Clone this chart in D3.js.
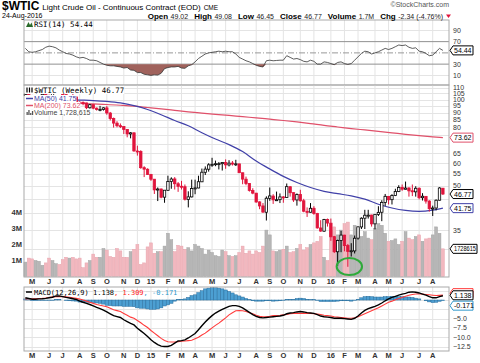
<!DOCTYPE html>
<html>
<head>
<meta charset="utf-8">
<script src="https://cdn.jsdelivr.net/npm/d3@7"></script>
<style>
  body { margin: 0; background: #fff; }
  svg { display: block; font-family: "Liberation Sans", Arial, sans-serif; }
</style>
</head>
<body>
<svg id="chart" width="480" height="363"></svg>
<script>
// weekly bars, Apr 2014 - Aug 2016
const firstWeek = new Date(2014, 3, 17)
const lastWeek = new Date(2016, 7, 26)

const open = [103.7,104.3,100.6,99.8,100.0,102.0,104.3,102.7,102.7,106.9,107.2,105.7,104.0,100.8,103.1,102.1,97.9,97.6,97.3,93.6,
  96.0,93.3,92.3,92.4,93.5,89.7,85.8,82.7,81.0,80.5,78.6,75.8,76.5,66.1,65.8,57.8,57.1,54.7,52.7,48.4,
  48.7,45.6,48.2,51.7,52.8,50.8,49.8,49.6,44.8,45.7,48.9,49.1,51.6,55.7,57.1,59.1,59.4,59.7,59.7,60.3,
  59.1,60.0,59.6,59.6,55.5,52.7,50.9,48.1,47.1,43.9,42.5,40.4,45.2,46.0,44.6,44.7,45.7,45.5,49.6,47.3,
  44.6,46.6,44.3,40.7,40.4,41.7,40.0,35.6,34.7,38.1,37.0,33.2,29.4,32.2,33.6,30.9,29.4,29.6,32.8,35.9,
  38.5,39.4,39.5,36.8,39.7,40.4,43.7,45.9,44.7,46.2,47.7,49.3,48.6,49.1,48.0,47.6,49.0,45.4,45.9,44.2,
  41.6,41.8,44.5,49.02]
const high = [104.99,104.5,101.5,101.0,102.5,104.5,104.5,104.0,107.7,107.7,107.5,106.5,104.2,103.5,105.0,102.5,98.5,98.5,97.5,96.5,
  96.0,93.8,95.0,94.0,95.0,90.5,86.5,84.0,82.5,80.5,78.8,77.0,76.8,69.0,66.5,58.5,57.5,55.0,52.7,49.3,
  48.9,48.3,54.2,53.5,53.6,51.5,52.0,50.5,47.8,52.5,52.5,54.2,57.4,58.4,59.9,62.6,61.2,60.5,60.5,61.8,
  61.4,61.0,61.6,59.7,55.5,53.8,51.0,49.0,47.2,44.1,43.5,45.9,49.3,46.7,47.7,47.0,46.0,50.9,49.8,47.4,
  47.0,48.4,45.0,42.0,43.5,42.4,40.2,37.9,38.3,38.4,38.4,33.4,32.4,34.8,33.7,31.3,31.5,33.5,36.0,38.8,
  41.2,41.2,39.6,39.8,42.4,44.5,46.8,46.0,46.7,48.8,50.2,50.5,51.7,49.4,50.5,49.8,49.3,47.1,46.0,44.5,
  42.6,44.8,49.4,49.08]
const low = [103.0,100.5,99.0,98.5,99.5,101.5,102.0,101.8,102.5,105.0,105.0,103.5,100.5,99.0,101.5,97.0,96.5,95.5,92.5,93.0,
  92.5,91.5,91.0,91.5,88.5,84.5,79.8,80.0,79.5,75.8,73.8,73.2,65.7,63.7,57.3,53.6,54.5,52.0,46.8,44.2,
  45.2,43.6,48.0,48.8,48.5,47.6,48.5,44.4,42.0,45.5,46.7,49.0,51.5,54.5,56.0,58.2,58.5,57.0,56.5,57.3,
  58.4,58.8,58.6,55.4,50.6,50.2,47.7,46.7,43.6,41.4,40.2,37.8,44.3,43.2,44.2,43.5,43.6,45.4,45.8,43.9,
  42.6,44.0,40.4,38.9,40.3,39.6,35.4,34.5,34.5,36.0,32.1,29.1,26.2,29.3,29.5,26.05,28.3,29.0,32.4,35.3,
  35.3,38.4,36.0,35.2,39.2,37.6,42.5,43.0,43.0,46.0,47.5,48.0,48.5,45.8,46.0,45.8,44.8,44.4,43.3,40.6,
  39.2,41.0,44.4,46.45]
const close = [104.30,100.60,99.76,99.99,102.02,104.35,102.71,102.66,106.91,107.26,105.74,104.06,100.83,103.13,102.09,97.88,97.65,97.35,93.65,95.96,
  93.29,92.27,92.41,93.54,89.74,85.82,82.75,81.01,80.54,78.65,75.82,76.51,66.15,65.84,57.81,57.13,54.73,52.69,48.36,48.69,
  45.59,48.24,51.69,52.78,50.81,49.76,49.61,44.84,45.72,48.87,49.14,51.64,55.74,57.15,59.15,59.39,59.69,59.72,60.30,59.13,
  59.96,59.61,59.63,55.52,52.74,50.89,48.14,47.12,43.87,42.50,40.45,45.22,46.05,44.63,44.68,45.70,45.54,49.63,47.26,44.60,
  46.59,44.29,40.74,40.39,41.71,39.97,35.62,34.73,38.10,37.04,33.16,29.42,32.19,33.62,30.89,29.44,29.64,32.78,35.92,38.50,
  39.44,39.46,36.79,39.72,40.36,43.73,45.92,44.66,46.21,47.75,49.33,48.62,49.07,47.98,47.64,48.99,45.41,45.95,44.19,41.60,
  41.80,44.49,49.11,46.77]

// volume in millions
const volume = [0.9,1.15,1.1,1.0,0.95,0.7,0.85,1.15,1.0,0.8,0.75,1.05,1.2,1.15,1.2,1.1,1.15,0.55,0.85,1.0,
  1.4,1.2,1.2,1.75,1.65,1.25,1.2,1.75,1.6,1.2,1.2,1.55,1.7,2.0,0.75,0.85,1.85,2.1,1.45,1.55,
  1.55,1.9,2.7,2.3,1.55,1.95,1.9,1.7,1.8,1.6,2.0,1.9,1.75,1.4,1.65,1.5,1.3,1.25,1.65,1.55,
  1.3,1.25,1.3,1.5,1.9,1.45,1.6,1.4,1.6,1.5,1.9,2.9,2.6,1.6,1.55,1.65,1.7,1.9,1.5,1.55,
  1.75,2.0,1.65,1.8,2.0,2.1,2.2,2.5,1.2,1.0,2.9,3.1,2.6,2.9,3.3,3.4,2.6,3.2,3.0,2.5,
  2.8,2.4,2.3,3.0,3.3,3.2,2.7,2.2,2.25,2.35,2.0,2.2,2.8,2.4,2.3,2.5,2.6,2.2,2.35,2.4,
  2.6,3.1,2.7,1.728615]

// moving averages, every 4th week
const maWeeks = [0,4,8,12,16,20,24,28,32,36,40,44,48,52,56,60,64,68,72,76,80,84,88,92,96,100,104,108,112,116,120,123]
const ma50 = [100.2,100.3,100.2,100.0,99.6,99.2,98.5,97.3,95.2,92.3,88.5,84.5,81.0,76.6,72.8,69.6,65.8,61.0,57.2,53.9,
  51.3,49.3,47.8,46.9,46.1,44.9,43.1,41.8,41.0,40.7,41.1,41.75]
const ma200 = [97.4,97.3,97.2,97.0,96.9,96.5,96.1,95.5,94.8,93.8,92.8,91.7,90.6,89.7,88.8,88.0,87.1,86.3,85.4,84.5,
  83.5,82.4,81.2,80.2,79.2,78.3,77.4,76.5,75.6,74.8,74.1,73.62]

const rsi = [58,52,51,52,54,56,60,62,61,59,55,52,49,48,46,43,41,42,40,37,37,36,33,30,28,27,27,26,
  25,23,24,19.5,19,15,15,12,11,10,11,10.5,13.7,22,24,25,25,26,23,22.5,27,29,34,40,44,48,50,51,52,53,52,53,
  52,52,48,42,39,36,34,31,28,26,25,36,37,36,36.5,
  37,37,45,42,39,40,38,35,34,37,35,30,30,34,33,31,29,33,34,31,29.5,31,37,43,49,53,52,48,50,52,
  55,58,56,58,61,64,63,64,60,58,59,53,52,49,45,46,52,58,54.44]

const macd = [0.6,0.4,0.2,0.2,0.3,0.35,0.45,0.6,0.75,1.1,1.1,0.9,0.7,0.55,0.35,0.15,-0.3,-0.6,-0.9,-1.2,
  -1.6,-2.0,-2.3,-2.7,-3.2,-3.7,-4.2,-4.45,-4.7,-5.3,-5.8,-6.3,-6.7,-7.6,-8.3,-9.0,-9.8,-10.7,-11.4,-12.0,
  -12.4,-12.5,-12.5,-12.2,-11.6,-11.0,-10.9,-10.7,-10.2,-9.6,-9.0,-8.0,-6.9,-5.9,-5.0,-4.2,-3.5,-3.0,-2.5,-2.1,
  -1.7,-1.5,-1.5,-1.7,-2.1,-2.7,-3.3,-3.9,-4.4,-4.7,-4.8,-4.7,-4.6,-4.5,-4.4,-4.3,-4.1,-3.7,-3.5,-3.4,
  -3.2,-3.1,-3.2,-3.4,-3.5,-3.6,-3.9,-4.3,-4.5,-4.6,-4.7,-4.9,-4.9,-4.9,-5.0,-5.1,-5.2,-4.9,-4.3,-3.5,
  -2.8,-2.3,-2.0,-1.7,-1.3,-0.8,-0.2,0.3,0.7,1.0,1.3,1.6,1.8,2.1,2.2,2.1,1.9,1.6,1.3,0.9,
  0.6,0.6,0.9,1.138]
const signal = [0.3,0.35,0.35,0.35,0.4,0.45,0.55,0.7,0.85,0.9,0.9,0.9,0.85,0.75,0.6,0.45,0.25,0.0,-0.3,-0.6,
  -0.9,-1.2,-1.4,-1.6,-1.8,-2.2,-2.6,-2.85,-3.1,-3.6,-4.1,-4.6,-4.9,-5.5,-6.1,-6.8,-7.4,-8.2,-8.9,-9.6,
  -10.3,-10.9,-11.2,-11.3,-11.3,-11.2,-11.1,-11.0,-10.9,-10.8,-10.4,-10.0,-9.4,-8.9,-8.2,-7.5,-6.8,-6.2,-5.5,-4.8,
  -4.0,-3.4,-2.9,-2.8,-2.9,-3.1,-3.4,-3.7,-4.1,-4.4,-4.5,-4.5,-4.4,-4.2,-4.15,-4.1,-4.0,-3.9,-3.7,-3.6,
  -3.6,-3.6,-3.6,-3.6,-3.6,-3.7,-3.8,-3.9,-4.1,-4.2,-4.3,-4.5,-4.6,-4.7,-4.8,-4.9,-4.9,-4.8,-4.5,-4.1,
  -3.7,-3.3,-2.9,-2.5,-2.1,-1.6,-1.1,-0.6,-0.3,0.1,0.4,0.7,1.0,1.3,1.5,1.6,1.6,1.6,1.5,1.4,
  1.3,1.2,1.25,1.309]

const priceTicks = [110,105,100,95,90,85,80,75,70,65,60,55,50,45,40,35,30]
const volTicks = [1,2,3,4]
const rsiTicks = [90,70,30,10]
const macdTicks = [2.5,-2.5,-5,-7.5,-10,-12.5]
const monthNames = ['J','F','M','A','M','J','J','A','S','O','N','D']

const weeks = d3.timeThursday.range(firstWeek, lastWeek)
const bars = weeks.map((d, i) => ({
  i, date: d, o: open[i], h: high[i], l: low[i], c: close[i], v: volume[i],
  up: i === 0 ? true : close[i] >= close[i - 1]
}))

const L = 24, R = 449
const red = '#e0143c', ma50Col = '#4040a8', ma200Col = '#e0506a'

const svg = d3.select('#chart')

const x = d3.scaleLinear().domain([-0.4, 124.8]).range([L, R])
const yRsi = d3.scaleLinear().domain([0, 100]).range([81, 24.75])
const yPrice = d3.scaleLog().domain([24.0, 112.4]).range([277, 85])
const yVol = d3.scaleLinear().domain([0, 12]).range([276.5, 84.5])
const yMacd = d3.scaleLinear().domain([-13.7, 3.5]).range([351, 287])

// month gridlines at first bar of each month
const monthTicks = bars.filter((b, i) => i === 0 || b.date.getMonth() !== bars[i - 1].date.getMonth()).slice(1)

// boxes with the latest values on the right axis
const boxes = [
  {y: yRsi(54.44), t: '54.44', c: '#000'},
  {y: yPrice(73.62), t: '73.62', c: ma200Col},
  {y: yPrice(46.77), t: '46.77', c: '#000'},
  {y: yPrice(41.75), t: '41.75', c: ma50Col},
  {y: yVol(1.728615), t: '1728615', c: '#000'},
  {y: yMacd(1.309) - 2, t: '', c: '#ff3b3b'},
  {y: yMacd(1.138) - 0.5, t: '1.138', c: '#000'},
  {y: yMacd(-0.171) + 5, t: '-0.171', c: '#3399cc'}
]
const clear = yy => boxes.every(b => !b.t || Math.abs(b.y - yy) > 7)

function panel(top, bottom) {
  const g = svg.append('g')
  g.selectAll('line.vg').data(monthTicks).enter().append('line')
    .attr('x1', d => x(d.i)).attr('x2', d => x(d.i))
    .attr('y1', top).attr('y2', bottom)
    .attr('stroke', '#e4e4e4').attr('stroke-width', 1)
  return g
}

function hGrid(g, ticks, scale) {
  g.selectAll('line.hg').data(ticks).enter().append('line')
    .attr('x1', L).attr('x2', R)
    .attr('y1', d => Math.round(scale(d)) + 0.5).attr('y2', d => Math.round(scale(d)) + 0.5)
    .attr('stroke', '#e4e4e4')
}

function rightLabels(ticks, scale, fmt) {
  svg.append('g').selectAll('text').data(ticks.filter(d => clear(scale(d)))).enter().append('text')
    .attr('x', R + 4).attr('y', d => scale(d) + 2.5)
    .attr('font-size', 7).attr('fill', '#333')
    .text(fmt || (d => d))
}

function valueBox(b) {
  const w = b.t.length > 6 ? 24 : 20
  svg.append('path')
    .attr('d', `M${R + 1},${b.y} L${R + 4},${b.y - 4.5} L${R + 4 + w},${b.y - 4.5} L${R + 4 + w},${b.y + 4.5} L${R + 4},${b.y + 4.5} Z`)
    .attr('fill', '#fff').attr('stroke', b.c).attr('stroke-width', 1)
  if (!b.t) return
  const t = svg.append('text').attr('x', R + 5).attr('y', b.y + 2.5)
    .attr('font-size', 7).attr('fill', '#000').text(b.t)
  if (b.t.length > 6) t.attr('textLength', w - 2).attr('lengthAdjust', 'spacingAndGlyphs')
}

// ---------- RSI panel
const rsiG = panel(20, 85)
hGrid(rsiG, [90, 10], yRsi)
rsiG.selectAll('line.lv').data([70, 30]).enter().append('line')
  .attr('x1', L).attr('x2', R).attr('y1', d => yRsi(d)).attr('y2', d => yRsi(d))
  .attr('stroke', '#909090')
rsiG.append('line').attr('x1', L).attr('x2', R).attr('y1', yRsi(50)).attr('y2', yRsi(50))
  .attr('stroke', '#999').attr('stroke-dasharray', '6,2,1,2')

rsiG.append('path').datum(bars)
  .attr('d', d3.area().x(d => x(d.i)).y0(yRsi(30)).y1(d => yRsi(Math.min(30, rsi[d.i]))))
  .attr('fill', '#a0625c').attr('stroke', 'none')
rsiG.append('path').datum(bars)
  .attr('d', d3.line().x(d => x(d.i)).y(d => yRsi(rsi[d.i])))
  .attr('fill', 'none').attr('stroke', '#333').attr('stroke-width', 0.8)
rsiG.append('rect').attr('x', L).attr('y', 20).attr('width', R - L).attr('height', 65)
  .attr('fill', 'none').attr('stroke', '#aaa')
rightLabels(rsiTicks, yRsi)

// ---------- price panel
const pG = panel(85, 277)
hGrid(pG, priceTicks, yPrice)

// volume overlay
pG.selectAll('rect.vol').data(bars).enter().append('rect')
  .attr('x', d => x(d.i) - 1.45).attr('width', 2.9)
  .attr('y', d => yVol(d.v)).attr('height', d => yVol(0) - yVol(d.v))
  .attr('fill', d => d.up ? '#b6b6b6' : '#f2b8bf')
  .attr('stroke', d => d.up ? '#a4a4a4' : '#e8a4ad').attr('stroke-width', 0.5)

const maLine = vals => d3.line().curve(d3.curveMonotoneX)
  .x((d, k) => x(maWeeks[k])).y(d => yPrice(d))(vals)
pG.append('path').attr('d', maLine(ma200)).attr('fill', 'none').attr('stroke', ma200Col).attr('stroke-width', 1.2)
pG.append('path').attr('d', maLine(ma50)).attr('fill', 'none').attr('stroke', ma50Col).attr('stroke-width', 1.2)

// candles
const candle = pG.selectAll('g.c').data(bars).enter().append('g')
candle.append('line')
  .attr('x1', d => x(d.i)).attr('x2', d => x(d.i))
  .attr('y1', d => yPrice(d.h)).attr('y2', d => yPrice(d.l))
  .attr('stroke', d => d.up ? '#000' : red).attr('stroke-width', 1)
candle.append('rect')
  .attr('x', d => x(d.i) - 1.2).attr('width', 2.4)
  .attr('y', d => yPrice(Math.max(d.o, d.c)))
  .attr('height', d => Math.max(1, yPrice(Math.min(d.o, d.c)) - yPrice(Math.max(d.o, d.c))))
  .attr('fill', d => d.c < d.o ? (d.up ? '#000' : red) : '#fff')
  .attr('stroke', d => d.up ? '#000' : red).attr('stroke-width', 0.8)

// highlight of the Feb 2016 low
pG.append('ellipse').attr('cx', x(95) + 1.5).attr('cy', yPrice(26.1))
  .attr('rx', 12.7).attr('ry', 8.5)
  .attr('fill', 'none').attr('stroke', '#2eaa3a').attr('stroke-width', 2)

pG.append('rect').attr('x', L).attr('y', 85).attr('width', R - L).attr('height', 192)
  .attr('fill', 'none').attr('stroke', '#aaa')
rightLabels(priceTicks, yPrice)

svg.append('g').selectAll('text').data(volTicks).enter().append('text')
  .attr('x', L - 2).attr('y', d => yVol(d) + 2.5).attr('text-anchor', 'end')
  .attr('font-size', 7.5).attr('font-weight', 'bold').attr('fill', '#333')
  .text(d => d + 'M')

// legend with white backing per line
const legend = [
  {t: '$WTIC (Weekly) 46.77', c: '#000', mono: true, y: 92.5},
  {t: 'MA(50) 41.75', c: ma50Col, y: 100.5},
  {t: 'MA(200) 73.62', c: ma200Col, y: 107.5},
  {t: 'Volume 1,728,615', c: '#444', y: 115}
]
legend.forEach(l => {
  const t = svg.append('text').attr('x', 34).attr('y', l.y)
    .attr('font-size', l.mono ? 7.5 : 7)
    .attr('font-family', l.mono ? '"DejaVu Sans Mono", monospace' : null)
    .attr('fill', l.c).text(l.t)
  const bb = t.node().getBBox()
  svg.insert('rect', () => t.node()).attr('x', 25).attr('y', bb.y + 0.5)
    .attr('width', bb.x + bb.width - 25).attr('height', bb.height - 1).attr('fill', '#fff')
})
svg.append('line').attr('x1', 26).attr('x2', 33).attr('y1', 98.5).attr('y2', 98.5).attr('stroke', ma50Col).attr('stroke-width', 1.5)
svg.append('line').attr('x1', 26).attr('x2', 33).attr('y1', 105.5).attr('y2', 105.5).attr('stroke', ma200Col).attr('stroke-width', 1.5)
svg.append('g').selectAll('rect').data([3, 5, 2, 4]).enter().append('rect')
  .attr('x', (d, k) => 26.5 + k * 1.8).attr('y', d => 115 - d).attr('width', 1.3).attr('height', d => d).attr('fill', '#555')
svg.append('g').selectAll('line').data([0, 1, 2]).enter().append('line')
  .attr('x1', k => 27 + k * 2.5).attr('x2', k => 27 + k * 2.5).attr('y1', 87.5).attr('y2', 92.5)
  .attr('stroke', '#000').attr('stroke-width', 1.2)

// ---------- MACD panel
const mG = panel(287, 351)
hGrid(mG, macdTicks.concat([0]), yMacd)
mG.selectAll('rect.h').data(bars).enter().append('rect')
  .attr('x', d => x(d.i) - 1.7).attr('width', 3.4)
  .attr('y', d => yMacd(Math.max(0, macd[d.i] - signal[d.i])))
  .attr('height', d => Math.abs(yMacd(0) - yMacd(macd[d.i] - signal[d.i])))
  .attr('fill', '#4c9fd2').attr('stroke', '#2a6f9e').attr('stroke-width', 0.5)
mG.append('path').datum(bars)
  .attr('d', d3.line().x(d => x(d.i)).y(d => yMacd(signal[d.i])))
  .attr('fill', 'none').attr('stroke', '#ff3b3b').attr('stroke-width', 1.1)
mG.append('path').datum(bars)
  .attr('d', d3.line().x(d => x(d.i)).y(d => yMacd(macd[d.i])))
  .attr('fill', 'none').attr('stroke', '#000').attr('stroke-width', 1.4)
mG.append('rect').attr('x', L).attr('y', 287).attr('width', R - L).attr('height', 64)
  .attr('fill', 'none').attr('stroke', '#aaa')
rightLabels(macdTicks, yMacd, d => d3.format('.1f')(d))

const macdLbl = svg.append('text').attr('x', 34).attr('y', 294.5)
  .attr('font-size', 7).attr('font-family', '"DejaVu Sans Mono", monospace')
macdLbl.append('tspan').attr('fill', '#000').text('MACD(12,26,9) 1.138')
macdLbl.append('tspan').attr('fill', '#ff2020').text(', 1.309')
macdLbl.append('tspan').attr('fill', '#3399cc').text(', -0.171')
svg.append('line').attr('x1', 26).attr('x2', 32).attr('y1', 292).attr('y2', 292).attr('stroke', '#000').attr('stroke-width', 1.5)

// month labels
;[281.5, 355.5].forEach(yy => {
  svg.append('g').selectAll('text').data(monthTicks).enter().append('text')
    .attr('x', d => x(d.i)).attr('y', yy + 2.5).attr('text-anchor', 'middle')
    .attr('font-size', 7.5).attr('font-weight', 'bold').attr('fill', '#333')
    .text(d => d.date.getMonth() === 0 ? String(d.date.getFullYear()).slice(2) : monthNames[d.date.getMonth()])
})

boxes.forEach(valueBox)

// RSI label
svg.append('text').attr('x', 34).attr('y', 26.5)
  .attr('font-size', 7.5).attr('font-family', '"DejaVu Sans Mono", monospace').attr('fill', '#000')
  .text('RSI(14) 54.44')
svg.append('path').attr('d', 'M26,27 L28.5,22 L30,25 L31.5,22.5 L33,27 Z').attr('fill', '#2a6a2a')

// header
const title = svg.append('text').attr('x', 2).attr('y', 9.5)
title.append('tspan').attr('font-size', 12).attr('font-weight', 'bold').text('$WTIC')
title.append('tspan').attr('font-size', 8).attr('dx', 3).text('Light Crude Oil - Continuous Contract (EOD)')
title.append('tspan').attr('font-size', 6.5).attr('dx', 3).text('CME')
svg.append('text').attr('x', 2).attr('y', 18).attr('font-size', 7).text('24-Aug-2016')
svg.append('text').attr('x', R).attr('y', 6.5).attr('text-anchor', 'end')
  .attr('font-size', 7).attr('fill', '#555').text('\u00a9StockCharts.com')

const quote = [['Open', '49.02'], ['High', '49.08'], ['Low', '46.45'], ['Close', '46.77'], ['Volume', '1.7M'], ['Chg', '-2.34 (-4.76%)']]
const q = svg.append('text').attr('x', R - 6).attr('y', 18.5).attr('text-anchor', 'end')
quote.forEach(([k, v], n) => {
  q.append('tspan').attr('font-size', 8).attr('font-weight', 'bold').attr('dx', n ? 6 : 0).text(k)
  q.append('tspan').attr('font-size', 7).attr('dx', 2.5).attr('fill', '#222').text(v)
})
svg.append('path').attr('d', `M${R - 3},14.5 L${R + 2},14.5 L${R - 0.5},18 Z`).attr('fill', red)
</script>
</body>
</html>
